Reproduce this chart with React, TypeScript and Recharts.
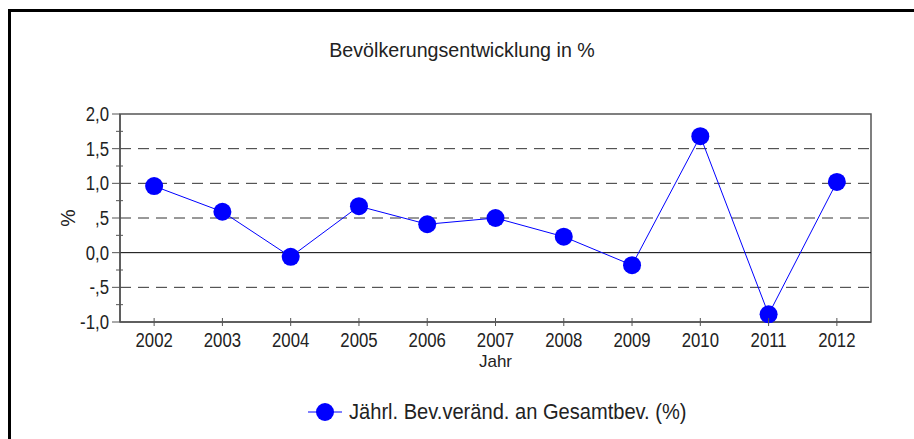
import React from 'react';
import { LineChart, Line, XAxis, YAxis, ReferenceLine, ReferenceArea, Legend } from 'recharts';

const years = ['2002', '2003', '2004', '2005', '2006', '2007', '2008', '2009', '2010', '2011', '2012'];
const changePct = [0.96, 0.59, -0.06, 0.67, 0.41, 0.5, 0.23, -0.18, 1.68, -0.89, 1.02];
const seriesName = 'Jährl. Bev.veränd. an Gesamtbev. (%)';

const majorYTicks = [-1, -0.5, 0, 0.5, 1, 1.5, 2];
const majorYLabels = ['-1,0', '-,5', '0,0', ',5', '1,0', '1,5', '2,0'];
const minorYTicks = [-0.75, -0.25, 0.25, 0.75, 1.25, 1.75];
const dashedGrid = [-0.5, 0.5, 1, 1.5];

const data = years.map((year, i) => ({ year, value: changePct[i] }));
const allYTicks = [...majorYTicks, ...minorYTicks].sort((a, b) => a - b);

const FONT = "'Liberation Sans', Arial, sans-serif";
const TEXT = '#222';
const AXIS = '#555';
const BLUE = '#0000ff';
const NARROW = 0.86;

function YTick(props: any) {
    const { x, y, payload } = props;
    const idx = majorYTicks.indexOf(payload.value);
    if (idx < 0) {
        return <line x1={x + 7} x2={x + 14} y1={y} y2={y} stroke={AXIS} />;
    }
    return (
        <g>
            <line x1={x + 3} x2={x + 11} y1={y} y2={y} stroke={AXIS} />
            <text transform={`translate(${x} ${y + 7}) scale(${NARROW} 1)`} textAnchor="end" fontSize={19.5}
                fill={TEXT} fontFamily={FONT}>
                {majorYLabels[idx]}
            </text>
        </g>
    );
}

function XTick(props: any) {
    const { x, y, payload } = props;
    return (
        <g>
            <line x1={x} x2={x} y1={y - 8} y2={y} stroke={AXIS} />
            <text transform={`translate(${x} ${y + 20.5}) scale(${NARROW} 1)`} textAnchor="middle" fontSize={19.5}
                fill={TEXT} fontFamily={FONT}>
                {payload.value}
            </text>
        </g>
    );
}

function YLabel(props: any) {
    const { viewBox } = props;
    const cx = viewBox.x + 48;
    const cy = viewBox.y + viewBox.height / 2;
    return (
        <text x={cx} y={cy} transform={`rotate(-90 ${cx} ${cy})`} textAnchor="middle" dominantBaseline="central"
            fontSize={19.5} fill={TEXT} fontFamily={FONT}>
            %
        </text>
    );
}

function LegendContent(props: any) {
    const item = props.payload && props.payload[0];
    return (
        <div style={{ display: 'flex', justifyContent: 'center', alignItems: 'center', height: 30, paddingLeft: 4 }}>
            <svg width={34} height={20}>
                <line x1={0} x2={34} y1={10} y2={10} stroke={BLUE} />
                <circle cx={17} cy={10} r={9} fill={BLUE} />
            </svg>
            <span style={{
                display: 'inline-block', marginLeft: 7, marginRight: -32, fontFamily: FONT, fontSize: 22, color: TEXT,
                lineHeight: '30px', transform: 'scaleX(0.913)', transformOrigin: 'left center', whiteSpace: 'nowrap',
            }}>
                {item ? item.value : seriesName}
            </span>
        </div>
    );
}

export default function App() {
    return (
        <div style={{ position: 'absolute', left: 0, top: 0, width: 914, height: 439, overflow: 'hidden', background: '#fff' }}>
            <div style={{
                position: 'absolute', left: 8, top: 9, width: 940, height: 460,
                borderTop: '3px solid #000', borderLeft: '3px solid #000',
            }} />
            <div style={{
                position: 'absolute', left: 0, width: 924, top: 39, textAlign: 'center',
                fontFamily: FONT, fontSize: 21, lineHeight: '21px', color: TEXT,
                transform: 'scaleX(0.936)', transformOrigin: '462px 50%',
            }}>
                Bevölkerungsentwicklung in %
            </div>
            <LineChart
                width={914}
                height={439}
                data={data}
                margin={{ top: 114, right: 43, bottom: 39, left: 20 }}
                style={{ position: 'absolute', left: 0, top: 0 }}
            >
                <ReferenceArea y1={-1} y2={2} fill="none" stroke={AXIS} strokeWidth={1.5} ifOverflow="visible" />
                {dashedGrid.map((v) => (
                    <ReferenceLine key={v} y={v} stroke="#333" strokeDasharray="11 7" />
                ))}
                <ReferenceLine y={0} stroke="#000" />
                <XAxis
                    dataKey="year"
                    scale="band"
                    height={48}
                    axisLine={{ stroke: AXIS, strokeWidth: 1.5 }}
                    tickLine={false}
                    tickSize={4}
                    tickMargin={0}
                    tick={<XTick />}
                    interval={0}
                    label={{ value: 'Jahr', position: 'insideBottom', offset: 3, fontSize: 17, fill: TEXT, fontFamily: FONT }}
                />
                <YAxis
                    width={100}
                    domain={[-1, 2]}
                    ticks={allYTicks}
                    interval={0}
                    axisLine={{ stroke: AXIS, strokeWidth: 1.5 }}
                    tickLine={false}
                    tickSize={8}
                    tickMargin={3}
                    tick={<YTick />}
                    label={<YLabel />}
                />
                <Legend
                    verticalAlign="bottom"
                    content={<LegendContent />}
                    wrapperStyle={{ left: 120, width: 751, bottom: 12 }}
                />
                <Line
                    name={seriesName}
                    dataKey="value"
                    stroke={BLUE}
                    strokeWidth={1}
                    dot={{ r: 9, fill: BLUE, stroke: BLUE, strokeWidth: 0 }}
                    activeDot={false}
                    isAnimationActive={false}
                />
            </LineChart>
        </div>
    );
}
